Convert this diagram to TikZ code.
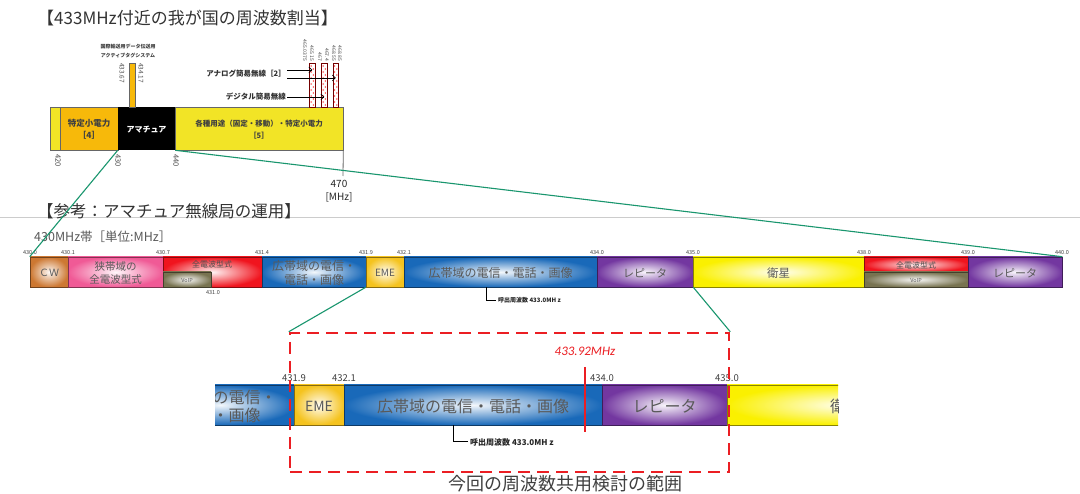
\documentclass[tikz,border=0pt]{standalone}
\usepackage{fontspec}
\setmainfont{Noto Sans CJK JP}
\newfontfamily\calfont{Carlito}
\usetikzlibrary{fit,arrows.meta}

\definecolor{topyellow}{RGB}{242,228,38}
\definecolor{toporange}{RGB}{247,185,10}
\definecolor{cwbrown}{RGB}{205,120,50}
\definecolor{nbpink}{RGB}{240,90,150}
\definecolor{allred}{RGB}{240,20,30}
\definecolor{bandblue}{RGB}{25,105,185}
\definecolor{emeyellow}{RGB}{245,195,30}
\definecolor{reppurple}{RGB}{115,55,160}
\definecolor{satyellow}{RGB}{250,240,0}
\definecolor{voipolive}{RGB}{120,115,80}
\definecolor{zoomgreen}{RGB}{25,150,110}
\definecolor{rangered}{RGB}{235,30,35}

\begin{document}
\begin{tikzpicture}[x=1pt,y=-1pt,
    seg/.style={inner sep=0pt, line width=0.6pt},
    grad/.style={seg, inner color=#1!5, outer color=#1, draw=#1!55!black},
    bandtxt/.style={align=center, inner sep=0pt, text=black!65, yshift=-1pt},
    tick/.style={anchor=south, inner sep=1pt, text=black!75, font=\fontsize{5.5}{6}\selectfont},
    bigtick/.style={anchor=south, inner sep=1pt, text=black!75, font=\fontsize{9.5}{10}\selectfont},
    vlab/.style={rotate=-90, inner sep=0pt, text=black!70},
    zoomline/.style={draw=zoomgreen, line width=1.1pt},
    callout/.style={anchor=west, inner sep=2pt, text=black!85},
    arr/.style={-{Straight Barb[length=3pt]}, line width=0.6pt},
  ]
  \useasboundingbox[fill=white] (0,0) rectangle (1080,494);

  % 上段：433MHz付近の周波数割当
  \node[anchor=west, inner sep=0pt, text=black!80, font=\fontsize{17}{20}\selectfont] (title1) at (37,18) {【433MHz付近の我が国の周波数割当】};
  \node[seg, fill=topyellow, draw=black!60, fit={(50,107) (60,150)}] (y0) {};
  \node[seg, fill=toporange, draw=black!60, fit={(60,107) (118,150)}] (tok4) {};
  \node[seg, fill=black, fit={(118,107) (175,150)}] (ama) {};
  \node[seg, fill=topyellow, draw=black!60, fit={(175,107) (343,150)}] (kaku) {};
  \node[bandtxt, text=black!75, font=\bfseries\fontsize{8.5}{12}\selectfont] (tok4t) at (tok4) {特定小電力\\［4］};
  \node[bandtxt, text=white, font=\bfseries\fontsize{8}{10}\selectfont] (amat) at (ama) {アマチュア};
  \node[bandtxt, text=black!75, font=\bfseries\fontsize{7.5}{12}\selectfont] (kakut) at (kaku) {各種用途（固定・移動）・特定小電力\\［5］};
  \node[vlab, anchor=west, font=\fontsize{7.5}{8}\selectfont] at (58,154) {420};
  \node[vlab, anchor=west, font=\fontsize{7.5}{8}\selectfont] at (118,154) {430};
  \node[vlab, anchor=west, font=\fontsize{7.5}{8}\selectfont] at (176,154) {440};
  \coordinate (t470) at (343,176);
  \draw[black!60, line width=0.8pt] (kaku.south east) -- (t470);
  \node[text=black!85, font=\fontsize{10}{10}\selectfont] (f470) at (339,184) {470};
  \node[text=black!85, font=\fontsize{10}{10}\selectfont] (mhz) at (339,197) {[MHz]};

  % アクティブタグ
  \node[seg, fill=toporange, draw=black!60, fit={(129,63) (135,107)}] (tag) {};
  \node[vlab, anchor=west, font=\fontsize{6.5}{7}\selectfont] at (122,63) {433.67};
  \node[vlab, anchor=west, font=\fontsize{6.5}{7}\selectfont] at (141,63) {434.17};
  \node[align=center, inner sep=0pt, text=black!75, font=\bfseries\fontsize{5}{8.5}\selectfont] (tagtxt) at (128,51) {国際輸送用データ伝送用\\アクティブタグシステム};

  % 簡易無線
  \foreach \n/\xa/\xb in {hb1/309.5/315, hb2/321.5/327, hb3/333/338.5}
    \node[seg, fill=white, draw=red!45!black, fit={(\xa,63) (\xb,107)}] (\n) {};
  \foreach \xa in {309.5,321.5,333}
    \foreach \yy in {66,72,...,102} {
      \fill[red!85] (\xa+1.6,\yy) circle (0.8);
      \fill[red!85] (\xa+3.9,\yy+3) circle (0.8);
    }
  \foreach \xx/\t in {305/465.0375, 312/465.15, 320/467, 327/467.4, 334/468.55, 340/468.85}
    \node[vlab, anchor=east, font=\fontsize{5}{5}\selectfont] at (\xx,61) {\t};
  \node[anchor=east, inner sep=1pt, text=black!80, font=\bfseries\fontsize{7.5}{8}\selectfont] (analog) at (287,74) {アナログ簡易無線［2］};
  \node[anchor=east, inner sep=1pt, text=black!80, font=\bfseries\fontsize{7.5}{8}\selectfont] (digital) at (287,97) {デジタル簡易無線};
  \draw[arr] ([yshift=4pt]analog.east) -- ([yshift=4pt]analog.east -| hb1.center);
  \draw[arr] ([yshift=-4pt]analog.east) -- ([yshift=-4pt]analog.east -| hb3.center);
  \draw[arr] (digital.east) -- (digital.east -| hb2.center);

  % 区切り線
  \draw[black!20, line width=1pt] (0,218) -- (1080,218);
  \node[anchor=west, inner sep=0pt, text=black!80, font=\fontsize{16.5}{20}\selectfont] (title2) at (37,211) {【参考：アマチュア無線局の運用】};
  \node[anchor=west, inner sep=0pt, text=black!65, font=\fontsize{12.5}{14}\selectfont] (unit) at (34,237) {430MHz帯［単位:MHz］};

  % 中段：430MHz帯
  \node[grad=cwbrown, fit={(30,257) (68,287)}] (cw) {};
  \node[grad=nbpink, fit={(68,257) (163,287)}] (nb) {};
  \node[grad=allred, fit={(163,257) (262,287)}] (red1) {};
  \node[grad=voipolive, fit={(163,272) (211,287)}] (voip1) {};
  \node[grad=bandblue, fit={(262,257) (366,287)}] (bw1) {};
  \node[grad=emeyellow, fit={(366,257) (404,287)}] (eme1) {};
  \node[grad=bandblue, fit={(404,257) (597,287)}] (bw2) {};
  \node[grad=reppurple, fit={(597,257) (693,287)}] (rep1) {};
  \node[grad=satyellow, fit={(693,257) (864,287)}] (sat1) {};
  \node[grad=allred, fit={(864,257) (968,272)}] (red2) {};
  \node[grad=voipolive, fit={(864,272) (968,287)}] (voip2) {};
  \node[grad=reppurple, fit={(968,257) (1062,287)}] (rep2) {};
  \node[bandtxt, font=\fontsize{10}{12}\selectfont] (cwt) at (cw) {ＣＷ};
  \node[bandtxt, font=\fontsize{10.5}{13}\selectfont] (nbt) at (nb) {狭帯域の\\全電波型式};
  \node[bandtxt, text=black!70, font=\fontsize{8}{9}\selectfont] (red1t) at (212,263) {全電波型式};
  \node[bandtxt, font=\fontsize{5.5}{6}\selectfont] (voip1t) at (voip1) {VoIP};
  \node[bandtxt, font=\fontsize{12}{14}\selectfont] (bw1t) at (bw1) {広帯域の電信・\\電話・画像};
  \node[bandtxt, font=\fontsize{10}{12}\selectfont] (eme1t) at (eme1) {EME};
  \node[bandtxt, font=\fontsize{12}{14}\selectfont] (bw2t) at (bw2) {広帯域の電信・電話・画像};
  \node[bandtxt, font=\fontsize{11}{13}\selectfont] (rep1t) at (rep1) {レピータ};
  \node[bandtxt, font=\fontsize{11.5}{13}\selectfont] (sat1t) at (sat1) {衛星};
  \node[bandtxt, text=black!70, font=\fontsize{8}{9}\selectfont] (red2t) at (red2) {全電波型式};
  \node[bandtxt, font=\fontsize{5.5}{6}\selectfont] (voip2t) at (voip2) {VoIP};
  \node[bandtxt, font=\fontsize{11}{13}\selectfont] (rep2t) at (rep2) {レピータ};
  \foreach \xx/\t in {30/430.0, 68/430.1, 163/430.7, 262/431.4, 366/431.9, 404/432.1, 597/434.0, 693/435.0, 864/438.0, 968/439.0, 1062/440.0}
    \node[tick] at (\xx,256) {\t};
  \node[tick, anchor=north] at (213,289) {431.0};
  \coordinate (call1pt) at (486,287);
  \node[callout, font=\bfseries\fontsize{6}{7}\selectfont] (call1) at (496,300) {呼出周波数 433.0MH z};
  \draw[line width=0.8pt] (call1.west) -| (call1pt);

  % 拡大線
  \draw[zoomline] (ama.south west) -- (cw.north west);
  \draw[zoomline] (ama.south east) -- (rep2.north east);

  % 下段：拡大図
  \begin{scope}
    \clip (215,383) rectangle (838,427);
    \node[grad=bandblue, fit={(147,385) (294,425)}] (bw3) {};
    \node[grad=emeyellow, fit={(294,385) (344,425)}] (eme2) {};
    \node[grad=bandblue, fit={(344,385) (602,425)}] (bw4) {};
    \node[grad=reppurple, fit={(602,385) (727,425)}] (rep3) {};
    \node[grad=satyellow, fit={(727,385) (965,425)}] (sat2) {};
    \node[bandtxt, font=\fontsize{16}{18}\selectfont] (bw3t) at (bw3) {広帯域の電信・\\電話・画像};
    \node[bandtxt, font=\fontsize{14}{16}\selectfont] (eme2t) at (eme2) {EME};
    \node[bandtxt, font=\fontsize{16}{18}\selectfont] (bw4t) at (bw4) {広帯域の電信・電話・画像};
    \node[bandtxt, font=\fontsize{16}{18}\selectfont] (rep3t) at (rep3) {レピータ};
    \node[bandtxt, font=\fontsize{16}{18}\selectfont] (sat2t) at (sat2) {衛星};
  \end{scope}
  \foreach \xx/\t in {294/431.9, 344/432.1, 602/434.0, 727/435.0}
    \node[bigtick] at (\xx,383) {\t};
  \coordinate (call2pt) at (453,425);
  \node[callout, font=\bfseries\fontsize{8}{9}\selectfont] (call2) at (468,442) {呼出周波数 433.0MH z};
  \draw[line width=1pt] (call2.west) -| (call2pt);

  % 433.92MHz
  \coordinate (f0top) at (585,367);
  \coordinate (f0bot) at (585,432);
  \draw[rangered, line width=2pt] (f0top) -- (f0bot);
  \node[text=rangered, inner sep=0pt, font=\calfont\itshape\fontsize{13}{14}\selectfont] (f0) at (585,351) {433.92MHz};

  % 検討範囲
  \node[draw=rangered, line width=2.5pt, dash pattern=on 12pt off 7pt, inner sep=0pt, fit={(290,333) (729,472)}] (range) {};
  \draw[zoomline] (eme1.south west) -- (range.north west);
  \draw[zoomline] (rep1.south east) -- (range.north east);
  \node[text=black!75, font=\fontsize{18}{20}\selectfont] (cap) at (565,484) {今回の周波数共用検討の範囲};
\end{tikzpicture}
\end{document}
